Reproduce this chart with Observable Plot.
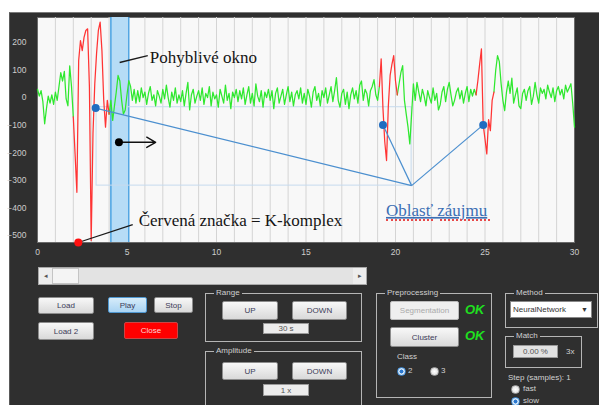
<!DOCTYPE html>
<html><head><meta charset="utf-8">
<script src="https://cdn.jsdelivr.net/npm/d3@7"></script>
<script src="https://cdn.jsdelivr.net/npm/@observablehq/plot@0.6"></script>
<style>
body{margin:0;width:599px;height:405px;overflow:hidden;background:#fff;position:relative;font-family:"Liberation Sans",Arial,sans-serif;}
#panel{position:absolute;left:9px;top:12px;width:590px;height:393px;background:#2f2f2f;border-top:1px solid #7a7a7a;border-left:1px solid #5a5a5a;box-sizing:border-box;}
#chart{position:absolute;left:0;top:0;}
.btn{position:absolute;box-sizing:border-box;border:1px solid #8c8c8c;border-radius:2px;background:linear-gradient(#f8f8f8,#d9d9d9);color:#3b3b58;font-size:8px;display:flex;align-items:center;justify-content:center;}
.grp{position:absolute;box-sizing:border-box;border:1px solid #b5b5b5;}
.grp>span{position:absolute;top:-6px;left:8px;background:#2f2f2f;color:#cfcfcf;font-size:8px;padding:0 2px;line-height:10px;}
.lbl{position:absolute;color:#d2d2d2;font-size:8px;line-height:10px;white-space:nowrap;}
.field{position:absolute;box-sizing:border-box;background:#ececec;border:1px solid #9a9a9a;color:#555;font-size:8px;display:flex;align-items:center;justify-content:center;}
.radio{position:absolute;box-sizing:border-box;width:9px;height:9px;border-radius:50%;border:1px solid #aaa;background:radial-gradient(#fff,#d8d8d8);}
.radio.on{border-color:#3a8ad8;background:radial-gradient(#2a78d0 35%,#cfe4f7 45%);}
.ok{position:absolute;color:#1fe01f;font-weight:bold;font-style:italic;font-size:13px;line-height:14px;}
.sb{position:absolute;box-sizing:border-box;}
.squig{position:absolute;height:0;border-bottom:2px dotted #e84a4a;}
</style></head>
<body>
<div id="panel"></div>
<div id="chart"></div>
<div class="squig" style="left:386px;top:219px;width:47px;"></div>
<div class="squig" style="left:440px;top:219px;width:50px;"></div>

<div class="sb" style="left:38px;top:267px;width:329px;height:18px;background:#e3e3e3;border:1px solid #a8a8a8;"></div>
<div class="sb" style="left:39px;top:268px;width:13px;height:16px;background:#ededed;color:#555;font-size:7px;display:flex;align-items:center;justify-content:center;">◂</div>
<div class="sb" style="left:52px;top:268px;width:27px;height:16px;background:#f4f4f4;border:1px solid #c4c4c4;"></div>
<div class="sb" style="left:353px;top:268px;width:13px;height:16px;background:#ededed;color:#555;font-size:7px;display:flex;align-items:center;justify-content:center;">▸</div>

<div class="btn" style="left:38px;top:297px;width:56px;height:17px;">Load</div>
<div class="btn" style="left:38px;top:322px;width:56px;height:18px;">Load 2</div>
<div class="btn" style="left:108px;top:297px;width:39px;height:16px;background:linear-gradient(#d6ecfa,#a9d3f2);border-color:#4f97d0;">Play</div>
<div class="btn" style="left:154px;top:297px;width:39px;height:16px;">Stop</div>
<div class="btn" style="left:124px;top:322px;width:54px;height:17px;background:#ff0000;border-color:#c44;color:#ffd6d6;">Close</div>

<div class="grp" style="left:205px;top:293px;width:157px;height:49px;"><span>Range</span></div>
<div class="btn" style="left:222px;top:301px;width:56px;height:19px;">UP</div>
<div class="btn" style="left:292px;top:301px;width:55px;height:19px;">DOWN</div>
<div class="field" style="left:263px;top:323px;width:46px;height:11px;">30 s</div>

<div class="grp" style="left:205px;top:351px;width:157px;height:62px;"><span>Amplitude</span></div>
<div class="btn" style="left:222px;top:362px;width:56px;height:18px;">UP</div>
<div class="btn" style="left:292px;top:362px;width:55px;height:18px;">DOWN</div>
<div class="field" style="left:263px;top:384px;width:46px;height:12px;">1 x</div>

<div class="grp" style="left:376px;top:293px;width:116px;height:105px;"><span>Preprocessing</span></div>
<div class="btn" style="left:390px;top:301px;width:69px;height:19px;background:#efefef;border-color:#bbb;color:#aaa;">Segmentation</div>
<div class="ok" style="left:465px;top:303px;">OK</div>
<div class="btn" style="left:390px;top:327px;width:69px;height:20px;">Cluster</div>
<div class="ok" style="left:465px;top:329px;">OK</div>
<div class="lbl" style="left:397px;top:352px;">Class</div>
<div class="radio on" style="left:397px;top:367px;"></div><div class="lbl" style="left:408px;top:366px;">2</div>
<div class="radio" style="left:430px;top:367px;"></div><div class="lbl" style="left:441px;top:366px;">3</div>

<div class="grp" style="left:505px;top:293px;width:93px;height:35px;"><span>Method</span></div>
<div class="field" style="left:510px;top:301px;width:82px;height:17px;background:#fff;border-color:#888;color:#333;justify-content:flex-start;padding-left:2px;">NeuralNetwork<span style="position:absolute;right:3px;font-size:7px;">▼</span></div>

<div class="grp" style="left:505px;top:336px;width:77px;height:32px;"><span>Match</span></div>
<div class="field" style="left:513px;top:345px;width:45px;height:13px;background:#e2e2e2;">0.00 %</div>
<div class="lbl" style="left:566px;top:347px;">3x</div>

<div class="lbl" style="left:508px;top:373px;">Step (samples): 1</div>
<div class="radio" style="left:511px;top:385px;"></div><div class="lbl" style="left:523px;top:384px;">fast</div>
<div class="radio on" style="left:511px;top:397px;"></div><div class="lbl" style="left:523px;top:396px;">slow</div>

<script>
// EEG trace, one value every 0.1 s from 0 to 30 s
const sampleStep = 0.1;
const eeg = [
  30, 5, 25, -15, -95, -40, 5, -20, 10, -25,
  20, -10, 40, 90, 60, 95, -5, -30, 115, 40,
  -70, -205, -343, 134, 206, 170, 218, 243, 249, 40,
  -518, -130, 50, 160, 243, 273, 170, -10, -107, -10,
  -60, -10, -83, -30, 20, 80, 60, -10, -60, -45,
  10, 61, 40, -10, 30, -20, 25, -15, 35, 0,
  20, -25, 15, 40, -10, 10, -30, 25, 5, -20,
  30, -5, 45, 0, -35, 20, -10, 35, -20, 10,
  -15, 25, -30, 15, 55, -45, 10, 30, -20, 5,
  25, -10, 35, -25, 15, 0, 40, -30, 20, -5,
  10, -35, 30, 5, -20, 45, -10, 15, -40, 20,
  0, 30, -15, 25, -5, 35, -25, 10, 40, -20,
  15, -30, 50, 5, -15, 25, -35, 20, 0, 30,
  -10, 25, -40, 15, 35, -20, 5, 30, -25, 10,
  40, -15, 20, -30, 10, 25, -5, 35, -20, 15,
  -25, 30, 5, -35, 20, 40, -10, 15, -30, 25,
  0, 35, -20, 10, 40, -15, 25, 72, -10, -35,
  15, 30, -25, 20, -40, 10, 35, -5, 25, -20,
  45, 60, -10, 30, 15, -30, 25, 40, 65, 10,
  -10, 40, 140, -40, -160, -228, -30, 80, 120, 152,
  60, 10, 50, 90, 116, -10, -60, -107, -168, -60,
  50, -10, 55, 20, -15, 30, 5, -30, 25, 0,
  -20, 35, -10, 15, -45, -25, 20, 40, -15, 30,
  55, 10, -30, -10, 20, 35, -5, 25, -20, 15,
  40, -15, 30, 5, 30, 10, 60, 120, 176, -99,
  -150, -204, -80, -120, -10, 20, 100, 152, 130, 50,
  -10, -47, 20, 60, 15, 70, -20, 10, 35, -30,
  -40, 15, 30, -10, 25, 40, -25, 5, 55, 10,
  -20, 35, 15, 30, -5, 45, 20, 0, 35, -15,
  25, 40, 10, 30, -5, 45, 20, 35, 50, -20,
  -107
];
// K-complex segments (seconds), drawn red
const kStart = [2.0, 19.1, 24.5];
const kEnd   = [4.0, 20.1, 25.5];
// moving window (seconds)
const windowStart = 4.1, windowEnd = 5.1;
// region-of-interest markers
const roiT = [3.25, 19.3, 24.9];
const roiV = [-38, -99, -99];
const hubT = 20.9, hubV = -319;
const boxT = [3.3, 20.9], boxV = [-35, -319];
// tick labels
const xTicks = [0, 5, 10, 15, 20, 25, 30];
const yTicks = [200, 100, 0, -100, -200, -300, -400, -500];
const gridSeconds = [1,2,3,4,5,6,7,8,9,10,11,12,13,14,15,16,17,18,19,20,21,22,23,24,25,26,27,28,29];
const yDomain = [-525, 290];
// annotations
const noteText = ["Pohyblivé okno", "Červená značka = K-komplex", "Oblasť záujmu"];
const noteT = [6.27, 5.65, 19.47];
const noteV = [145, -446, -409];
const noteColor = ["#141414", "#141414", "#3d6fb4"];
const pointerT1 = [4.59, 2.28], pointerV1 = [127, -525];
const pointerT2 = [6.16, 5.32], pointerV2 = [152, -460];
const redMarkT = 2.28, redMarkV = -525;
const moveT1 = 4.55, moveT2 = 6.6, moveV = -162;

const eps = 1e-9;
const signal = eeg.map((v, i) => ({t: Math.round(i * sampleStep * 10) / 10, v}));
const redPts = [];
kStart.forEach((a, k) => signal.forEach(d => { if (d.t >= a - eps && d.t <= kEnd[k] + eps) redPts.push({...d, k}); }));
const greenPts = signal
  .filter(d => !kStart.some((a, k) => d.t > a + eps && d.t < kEnd[k] - eps))
  .map(d => ({...d, g: kEnd.filter(e => e <= d.t + eps).length}));
const roi = roiT.map((t, i) => ({t, v: roiV[i]}));
const notes = noteText.map((text, i) => ({text, t: noteT[i], v: noteV[i], c: noteColor[i]}));
const pointers = pointerT1.map((t, i) => ({t1: t, v1: pointerV1[i], t2: pointerT2[i], v2: pointerV2[i]}));

const plot = Plot.plot({
  width: 599, height: 262,
  marginLeft: 37, marginRight: 25, marginTop: 17, marginBottom: 20,
  style: {background: "transparent", color: "#cdcdcd", fontSize: "8.5px", fontFamily: "Liberation Sans, Arial, sans-serif"},
  x: {domain: [0, 30], ticks: xTicks, tickSize: 0, tickPadding: 6, label: null},
  y: {domain: yDomain, ticks: yTicks, tickSize: 0, tickPadding: 11, label: null},
  marks: [
    Plot.frame({fill: "#f8f8f8", stroke: "#6a6a6a"}),
    Plot.ruleX(gridSeconds, {stroke: "#d4d4d4", strokeWidth: 1}),
    Plot.rect([{a: windowStart, b: windowEnd}], {x1: "a", x2: "b", fill: "#b6dcf6"}),
    Plot.ruleX([windowStart, windowEnd], {stroke: "#3a9be0", strokeWidth: 1.3}),
    Plot.rect([{a: boxT[0], b: boxT[1], c: boxV[0], d: boxV[1]}], {x1: "a", x2: "b", y1: "c", y2: "d", fill: "none", stroke: "#c6daee", strokeWidth: 1}),
    Plot.line(greenPts, {x: "t", y: "v", z: "g", stroke: "#2fe82f", strokeWidth: 1.25}),
    Plot.line(redPts, {x: "t", y: "v", z: "k", stroke: "#ff3434", strokeWidth: 1.25}),
    Plot.link(roi, {x1: "t", y1: "v", x2: () => hubT, y2: () => hubV, stroke: "#4b8fcf", strokeWidth: 1.2}),
    Plot.dot(roi, {x: "t", y: "v", r: 4, fill: "#1f6cc0"}),
    Plot.link(pointers, {x1: "t1", y1: "v1", x2: "t2", y2: "v2", stroke: "#1a1a1a", strokeWidth: 1.3}),
    Plot.dot([{t: redMarkT, v: redMarkV}], {x: "t", y: "v", r: 4, fill: "#ff1010"}),
    Plot.arrow([{a: moveT1, b: moveT2, v: moveV}], {x1: "a", x2: "b", y1: "v", y2: "v", stroke: "#111", strokeWidth: 1.4, headLength: 11}),
    Plot.dot([{t: moveT1, v: moveV}], {x: "t", y: "v", r: 4, fill: "#000"}),
    Plot.text(notes, {x: "t", y: "v", text: "text", fill: "c", textAnchor: "start", fontFamily: "Liberation Serif, Times New Roman, serif", fontSize: 17})
  ]
});
document.getElementById("chart").appendChild(plot);
plot.querySelectorAll("text").forEach(el => {
  if (el.textContent === "Oblasť záujmu") {
    el.style.textDecoration = "underline";
  }
});
</script>
</body></html>
